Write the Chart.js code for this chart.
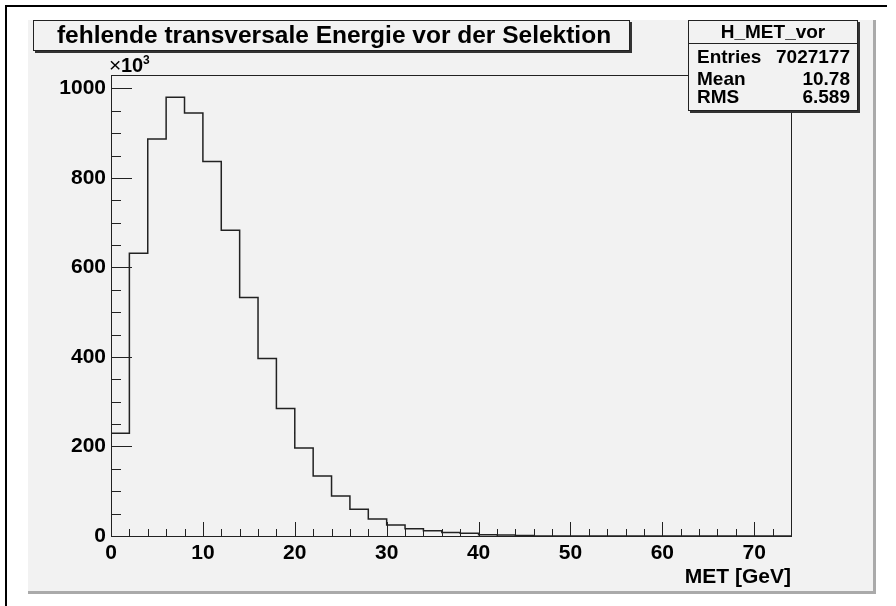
<!DOCTYPE html>
<html>
<head>
<meta charset="utf-8">
<script src="https://cdn.jsdelivr.net/npm/chart.js@4/dist/chart.umd.min.js"></script>
<style>
  html, body { margin: 0; padding: 0; background: #fff; }
  #c { display: block; }
</style>
</head>
<body>
<canvas id="c" width="896" height="606"></canvas>
<script>
// Histogram H_MET_vor: missing transverse energy before selection
const histName = 'H_MET_vor';
const histTitle = 'fehlende transversale Energie vor der Selektion';
const xTitle = 'MET [GeV]';
const binWidth = 2;
const binLow = [0, 2, 4, 6, 8, 10, 12, 14, 16, 18, 20, 22, 24, 26, 28, 30, 32, 34, 36,
                38, 40, 42, 44, 46, 48, 50, 52, 54, 56, 58, 60, 62, 64, 66, 68, 70, 72];
// entries per bin, in units of 10^3
const counts = [229.5, 632, 887, 980.5, 945, 837, 683, 533, 396.5, 284.7, 196.7, 134, 89.4,
                60, 38, 24.6, 16, 12, 8, 6, 3, 2, 1, 0, 0, 0, 0, 0, 0, 0, 0, 0, 0, 0, 0, 0, 0];
const statLabels = ['Entries', 'Mean', 'RMS'];
const statValues = ['7027177', '10.78', '6.589'];
const xTicks = [0, 10, 20, 30, 40, 50, 60, 70];
const yTicks = [0, 200, 400, 600, 800, 1000];
const xMax = 74;
const yMax = 1030;

const FONT = '"Liberation Sans", Arial, Helvetica, sans-serif';
const PAD_BG = '#f2f2f2';
const LINE = '#222';

// step outline: rise at the first edge, hold each bin value to the next edge, drop at the end
const points = [{ x: binLow[0], y: 0 }];
binLow.forEach((lo, i) => points.push({ x: lo, y: counts[i] }));
const last = binLow.length - 1;
points.push({ x: binLow[last] + binWidth, y: counts[last] });
points.push({ x: binLow[last] + binWidth, y: 0 });

function shadowBox(ctx, x, y, w, h) {
  ctx.fillStyle = '#333';
  ctx.fillRect(x + 2, y + 2, w, h);
  ctx.fillStyle = PAD_BG;
  ctx.fillRect(x, y, w, h);
  ctx.strokeStyle = LINE;
  ctx.lineWidth = 1;
  ctx.strokeRect(x + 0.5, y + 0.5, w - 1, h - 1);
}

const rootStyle = {
  id: 'rootStyle',
  beforeDraw(chart) {
    const ctx = chart.ctx;
    ctx.save();
    ctx.fillStyle = '#fff';
    ctx.fillRect(0, 0, chart.width, chart.height);
    // canvas border
    ctx.strokeStyle = '#000';
    ctx.lineWidth = 2;
    ctx.beginPath();
    ctx.moveTo(6, 606);
    ctx.lineTo(6, 6);
    ctx.lineTo(887, 6);
    ctx.stroke();
    // pad with shadow edges
    ctx.fillStyle = PAD_BG;
    ctx.fillRect(28, 20, 845, 571);
    ctx.fillStyle = '#aaa';
    ctx.fillRect(28, 591, 848, 3);
    ctx.fillRect(873, 20, 3, 574);
    ctx.restore();
  },
  afterDatasetsDraw(chart) {
    const { ctx, chartArea: a, scales: { x, y } } = chart;
    ctx.save();
    ctx.strokeStyle = LINE;
    ctx.lineWidth = 1;
    ctx.strokeRect(a.left + 0.5, a.top + 0.5, a.right - a.left, a.bottom - a.top);
    ctx.beginPath();
    // x ticks point up into the frame
    for (let v = 0; v <= xMax; v += binWidth) {
      const px = Math.round(x.getPixelForValue(v)) + 0.5;
      const len = v % 10 === 0 ? 14 : 7;
      ctx.moveTo(px, a.bottom);
      ctx.lineTo(px, a.bottom - len);
    }
    // y ticks point right into the frame
    for (let v = 0; v <= 1000; v += 50) {
      const py = Math.round(y.getPixelForValue(v)) + 0.5;
      const len = v % 200 === 0 ? 21 : 10;
      ctx.moveTo(a.left, py);
      ctx.lineTo(a.left + len, py);
    }
    ctx.stroke();
    ctx.restore();
  },
  afterDraw(chart) {
    const { ctx, chartArea: a } = chart;
    ctx.save();

    // title box
    shadowBox(ctx, 33, 20, 597, 31);
    ctx.fillStyle = '#000';
    ctx.font = 'bold 24.5px ' + FONT;
    ctx.textAlign = 'center';
    ctx.textBaseline = 'alphabetic';
    ctx.fillText(histTitle, 334, 43);

    // stats box
    shadowBox(ctx, 688, 20, 170, 91);
    ctx.strokeStyle = LINE;
    ctx.beginPath();
    ctx.moveTo(688, 43.5);
    ctx.lineTo(858, 43.5);
    ctx.stroke();
    ctx.fillStyle = '#000';
    ctx.font = 'bold 19px ' + FONT;
    ctx.textAlign = 'center';
    ctx.fillText(histName, 773, 38);
    const rowBase = [63, 85, 103];
    statLabels.forEach((lab, i) => {
      ctx.textAlign = 'left';
      ctx.fillText(lab, 697, rowBase[i]);
      ctx.textAlign = 'right';
      ctx.fillText(statValues[i], 850, rowBase[i]);
    });

    // axis title
    ctx.font = 'bold 21px ' + FONT;
    ctx.textAlign = 'right';
    ctx.fillText(xTitle, a.right, 583);

    // y exponent label
    ctx.textAlign = 'left';
    ctx.font = '21px ' + FONT;
    ctx.fillText('\u00d7', 109, 72);
    ctx.font = 'bold 20px ' + FONT;
    ctx.fillText('10', 121, 72);
    ctx.font = 'bold 12px ' + FONT;
    ctx.fillText('3', 143, 64);
    ctx.restore();
  }
};

new Chart(document.getElementById('c'), {
  type: 'line',
  data: {
    datasets: [{
      data: points,
      stepped: true,
      borderColor: LINE,
      borderWidth: 1.5,
      pointRadius: 0,
      fill: false
    }]
  },
  options: {
    responsive: false,
    animation: false,
    events: [],
    layout: { padding: { left: 0, top: 75, right: 105, bottom: 0 } },
    plugins: { legend: { display: false }, tooltip: { enabled: false } },
    scales: {
      x: {
        type: 'linear',
        min: 0,
        max: xMax,
        grid: { display: false, drawTicks: false },
        border: { display: false },
        afterBuildTicks: s => { s.ticks = xTicks.map(v => ({ value: v })); },
        afterFit: s => { s.height = 70; },
        ticks: {
          autoSkip: false,
          maxRotation: 0,
          padding: 5,
          color: '#000',
          callback: v => String(v),
          font: { family: FONT, size: 21, weight: 'bold' }
        }
      },
      y: {
        min: 0,
        max: yMax,
        grid: { display: false, drawTicks: false },
        border: { display: false },
        afterBuildTicks: s => { s.ticks = yTicks.map(v => ({ value: v })); },
        afterFit: s => { s.width = 111; },
        ticks: {
          padding: 5,
          color: '#000',
          callback: v => String(v),
          font: { family: FONT, size: 21, weight: 'bold' }
        }
      }
    }
  },
  plugins: [rootStyle]
});
</script>
</body>
</html>
